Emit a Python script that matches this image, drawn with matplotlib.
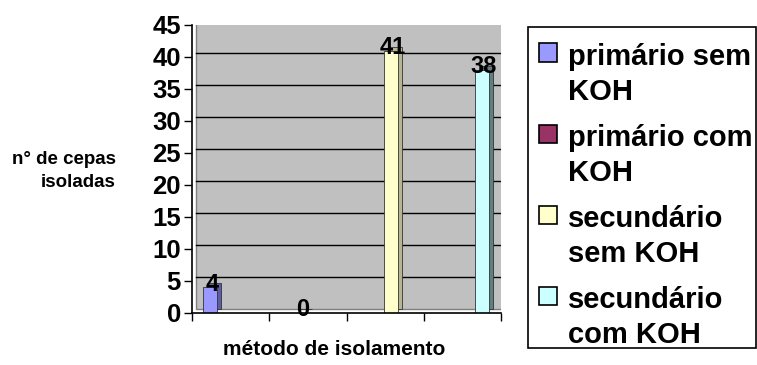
import numpy as np
import matplotlib
matplotlib.use('Agg')
import matplotlib.pyplot as plt
from matplotlib.patches import Rectangle
from matplotlib.transforms import ScaledTranslation

# ── data ─────────────────────────────────────────────────────────────────────

series = ['primário sem\nKOH', 'primário com\nKOH', 'secundário\nsem KOH', 'secundário\ncom KOH']
values = [4, 0, 41, 38]
face_colors = ['#9999FF', '#993366', '#FFFFCC', '#CCFFFF']
side_colors = ['#5C5CA8', '#5E1F3E', '#B5B58F', '#5F8080']
yticks = list(range(0, 46, 5))

plt.rcParams['font.family'] = ['Liberation Sans', 'DejaVu Sans']
plt.rcParams['font.weight'] = 'bold'

W, H = 757, 365
fig = plt.figure(figsize=(W / 100, H / 100), dpi=100)
ax = fig.add_axes([192 / W, 1 - 313 / H, 309 / W, 288 / H])
ax.set_xlim(-0.2, 3.21)
ax.set_ylim(0, 45)
ax.patch.set_visible(False)

# fake 3D depth: back wall and bar blocks shifted up/right by a few pixels
depth = ScaledTranslation(4 / 100, 4 / 100, fig.dpi_scale_trans)
back = ax.transAxes + depth
ax.add_patch(Rectangle((0, 0), 1, 1, transform=back, facecolor='#C0C0C0',
                       edgecolor='#808080', lw=1, zorder=0))
for y in yticks[1:]:
    ax.plot([0, 1], [y, y], transform=ax.get_yaxis_transform() + depth,
            color='black', lw=1, zorder=1)

x = np.arange(len(values))
bw = 0.155
ax.bar(x, values, width=bw, color=side_colors, edgecolor='#333333', lw=0.6,
       transform=ax.transData + depth, zorder=2)
ax.bar(x, values, width=bw, color=face_colors, edgecolor='#333333', lw=0.6, zorder=3)

for xi, v in zip(x, values):
    ax.text(xi + 0.02, v + 0.5, str(v), ha='center', va='center',
            fontsize=17, fontweight='bold', zorder=5)

ax.set_yticks(yticks)
ax.set_yticklabels([str(t) for t in yticks], fontsize=18.5, fontweight='bold')
ax.set_xticks(np.linspace(-0.2, 3.21, 5))
ax.set_xticklabels([])
ax.tick_params(axis='both', direction='out', length=6, width=1, colors='black', pad=2)
for s in ['top', 'right']:
    ax.spines[s].set_visible(False)
for s in ['left', 'bottom']:
    ax.spines[s].set_linewidth(1.2)
    ax.spines[s].set_zorder(6)

fig.text(116 / W, 1 - 187 / H, 'n° de cepas\nisoladas', ha='right', va='baseline',
         multialignment='right', fontsize=13.5, fontweight='bold', linespacing=1.45)
fig.text(334 / W, 1 - 355 / H, 'método de isolamento', ha='center', va='baseline',
         fontsize=15, fontweight='bold')

# legend, laid out by hand to follow the original spacing
fig.patches.append(Rectangle((528 / W, 1 - 348 / H), 228 / W, 321 / H,
                             transform=fig.transFigure, facecolor='white',
                             edgecolor='black', lw=1.2, zorder=0))
for i, (lab, c) in enumerate(zip(series, face_colors)):
    base2 = 100 + 81 * i
    base1 = base2 - 33
    fig.patches.append(Rectangle((539 / W, 1 - (base1 - 5.5) / H), 18 / W, 18 / H,
                                 transform=fig.transFigure, facecolor=c,
                                 edgecolor='black', lw=1.2))
    fig.text(568 / W, 1 - base2 / H, lab, ha='left', va='baseline', fontsize=21,
             fontweight='bold', linespacing=1.3)

fig.savefig('out.png', dpi=100)
